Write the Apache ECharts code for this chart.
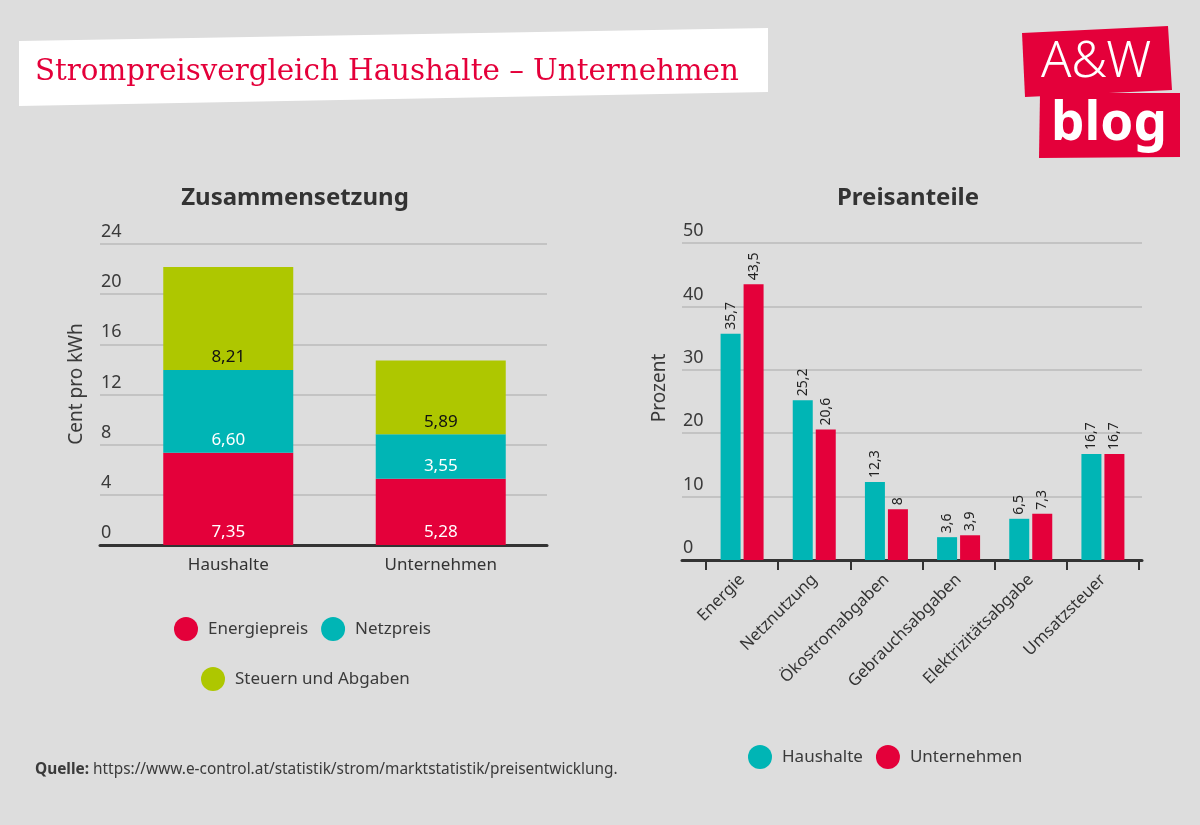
<!DOCTYPE html>
<html>
<head>
<meta charset="utf-8">
<script src="https://cdn.jsdelivr.net/npm/echarts@6/dist/echarts.min.js"></script>
<style>html,body{margin:0;padding:0;background:#dddddd;}#c{width:1200px;height:825px;}</style>
</head>
<body>
<div id="c"></div>
<script>
// ---- data ----
const leftCategories = ['Haushalte', 'Unternehmen'];
const energiepreis = [7.35, 5.28];
const netzpreis = [6.60, 3.55];
const steuern = [8.21, 5.89];
const leftTicks = { min: 0, max: 24, interval: 4 };

const rightCategories = ['Energie', 'Netznutzung', 'Ökostromabgaben', 'Gebrauchsabgaben', 'Elektrizitätsabgabe', 'Umsatzsteuer'];
const haushalte = [35.7, 25.2, 12.3, 3.6, 6.5, 16.7];
const unternehmen = [43.5, 20.6, 8, 3.9, 7.3, 16.7];
const rightTicks = { min: 0, max: 50, interval: 10 };

// ---- style ----
const RED = '#e4003a', TEAL = '#00b5b5', GREEN = '#aec700';
const FONT = '"Noto Sans", "Open Sans", sans-serif';
const TXT = '#3a3a3a';

const chart = echarts.init(document.getElementById('c'), null, { renderer: 'canvas' });

function bgYAxis(grid, t) {
  return {
    type: 'value', gridIndex: grid, min: t.min, max: t.max, interval: t.interval,
    axisLine: { show: false }, axisTick: { show: false },
    axisLabel: { inside: true, verticalAlign: 'bottom', margin: 1, padding: [0, 0, 3, 0],
      fontFamily: FONT, fontSize: 18, color: TXT },
    splitLine: { show: true, lineStyle: { color: '#c3c3c3', width: 2 } }
  };
}
function bgXAxis(grid) {
  return {
    type: 'value', gridIndex: grid, min: 0, max: 1,
    axisLine: { show: true, lineStyle: { color: '#333', width: 3 } },
    axisTick: { show: false }, axisLabel: { show: false }, splitLine: { show: false }
  };
}
function hiddenY(grid, t) {
  return { type: 'value', gridIndex: grid, min: t.min, max: t.max, show: false };
}
const comma2 = p => p.value.toFixed(2).replace('.', ',');
const comma = p => String(p.value).replace('.', ',');

function stackSeries(name, data, color, labelColor) {
  return {
    name, type: 'bar', xAxisIndex: 1, yAxisIndex: 1, stack: 'total', data,
    barWidth: 130, itemStyle: { color },
    label: { show: true, position: 'insideBottom', distance: 4, formatter: comma2,
      fontFamily: FONT, fontSize: 17, color: labelColor }
  };
}
function groupSeries(name, data, color) {
  return {
    name, type: 'bar', xAxisIndex: 3, yAxisIndex: 3, data,
    barWidth: 20, barGap: '15%', itemStyle: { color },
    label: { show: true, position: 'top', rotate: 90, align: 'left', verticalAlign: 'middle',
      distance: 4, formatter: comma, fontFamily: FONT, fontSize: 14, color: '#222' }
  };
}
const legendBase = {
  icon: 'circle', itemWidth: 24, itemHeight: 24, itemGap: 13, orient: 'horizontal',
  textStyle: { fontFamily: FONT, fontSize: 17, color: TXT, padding: [0, 0, 0, 5] }
};

const option = {
  backgroundColor: '#dddddd',
  animation: false,
  grid: [
    { left: 100, right: 653, top: 244, bottom: 280 },
    { left: 122, right: 653, top: 244, bottom: 280 },
    { left: 682, right: 58, top: 243, bottom: 265 },
    { left: 706, right: 61, top: 243, bottom: 265 }
  ],
  xAxis: [
    bgXAxis(0),
    { type: 'category', gridIndex: 1, data: leftCategories,
      axisLine: { show: false }, axisTick: { show: false },
      axisLabel: { margin: 12, fontFamily: FONT, fontSize: 17, color: '#333' } },
    bgXAxis(2),
    { type: 'category', gridIndex: 3, data: rightCategories,
      axisLine: { show: false },
      axisTick: { show: true, length: 10, lineStyle: { color: '#333', width: 2 } },
      axisLabel: { rotate: 45, margin: 17, interval: 0, fontFamily: FONT, fontSize: 16.5, color: '#333' } }
  ],
  yAxis: [
    bgYAxis(0, leftTicks),
    hiddenY(1, leftTicks),
    bgYAxis(2, rightTicks),
    hiddenY(3, rightTicks)
  ],
  legend: [
    Object.assign({}, legendBase, { data: ['Energiepreis', 'Netzpreis'], left: 169, top: 612 }),
    Object.assign({}, legendBase, { data: ['Steuern und Abgaben'], left: 196, top: 662 }),
    Object.assign({}, legendBase, { data: ['Haushalte', 'Unternehmen'], left: 743, top: 740 })
  ],
  series: [
    stackSeries('Energiepreis', energiepreis, RED, '#ffffff'),
    stackSeries('Netzpreis', netzpreis, TEAL, '#ffffff'),
    stackSeries('Steuern und Abgaben', steuern, GREEN, '#111111'),
    groupSeries('Haushalte', haushalte, TEAL),
    groupSeries('Unternehmen', unternehmen, RED)
  ],
  graphic: [
    // header box
    { type: 'polygon', shape: { points: [[19, 41], [768, 28], [768, 92], [19, 106]] },
      style: { fill: '#ffffff' } },
    { type: 'text', x: 35, y: 72,
      style: { text: 'Strompreisvergleich Haushalte – Unternehmen', fill: RED,
        font: '29.3px "DejaVu Serif", serif', textVerticalAlign: 'middle' } },
    // logo
    { type: 'polygon', shape: { points: [[1022, 33], [1168, 26], [1172, 90], [1025, 97]] },
      style: { fill: RED } },
    { type: 'polygon', shape: { points: [[1040, 93], [1180, 93], [1180, 157], [1039, 158]] },
      style: { fill: RED } },
    { type: 'text', x: 1096, y: 63,
      style: { text: 'A&W', fill: '#ffffff', font: '300 50px "Noto Sans", sans-serif',
        textAlign: 'center', textVerticalAlign: 'middle' } },
    { type: 'text', x: 1109, y: 125,
      style: { text: 'blog', fill: '#ffffff', font: 'bold 53px "Noto Sans", sans-serif',
        textAlign: 'center', textVerticalAlign: 'middle' } },
    // chart titles
    { type: 'text', x: 295, y: 198,
      style: { text: 'Zusammensetzung', fill: '#333', font: 'bold 24px ' + FONT,
        textAlign: 'center', textVerticalAlign: 'middle' } },
    { type: 'text', x: 908, y: 198,
      style: { text: 'Preisanteile', fill: '#333', font: 'bold 24px ' + FONT,
        textAlign: 'center', textVerticalAlign: 'middle' } },
    // axis names
    { type: 'text', x: 77, y: 384, rotation: Math.PI / 2,
      style: { text: 'Cent pro kWh', fill: TXT, font: '19px ' + FONT,
        textAlign: 'center', textVerticalAlign: 'middle' } },
    { type: 'text', x: 660, y: 388, rotation: Math.PI / 2,
      style: { text: 'Prozent', fill: TXT, font: '19px ' + FONT,
        textAlign: 'center', textVerticalAlign: 'middle' } },
    // source
    { type: 'text', x: 35, y: 770,
      style: { text: '{b|Quelle:} https://www.e-control.at/statistik/strom/marktstatistik/preisentwicklung.',
        fill: TXT, font: '15.4px ' + FONT, textVerticalAlign: 'middle',
        rich: { b: { fontWeight: 'bold', fontSize: 15.4, fontFamily: FONT, fill: TXT } } } }
  ]
};
chart.setOption(option);
</script>
</body>
</html>
